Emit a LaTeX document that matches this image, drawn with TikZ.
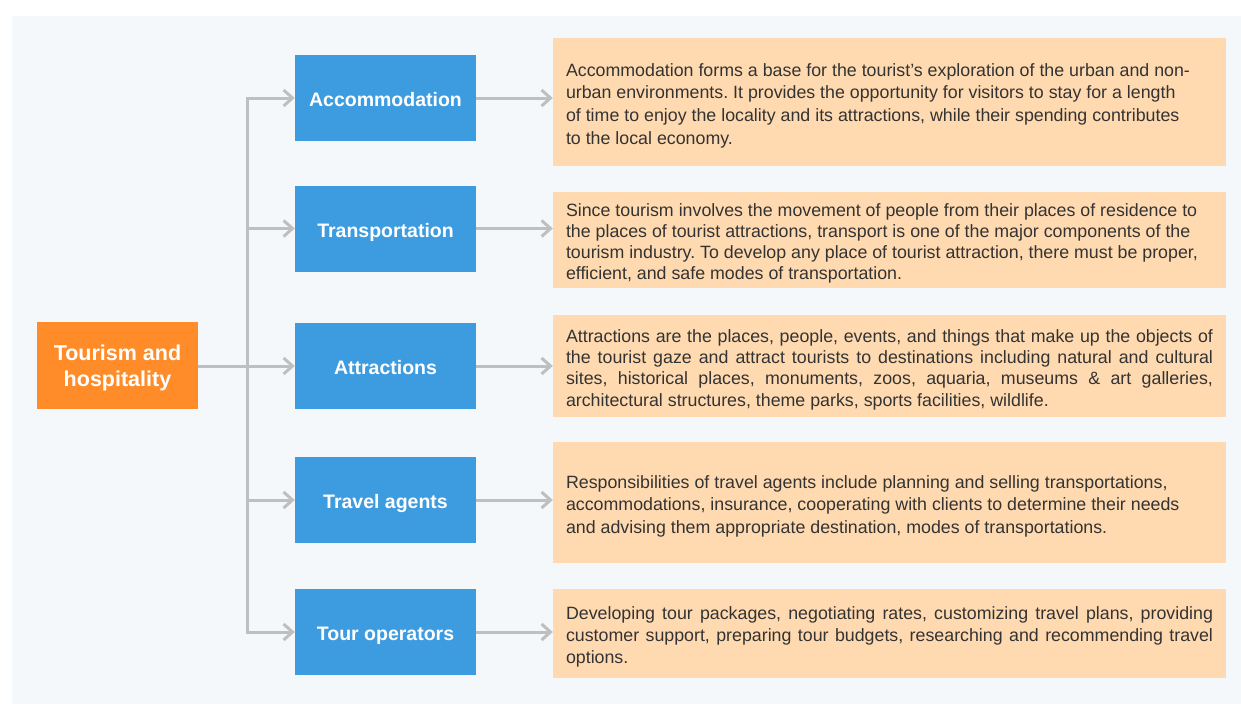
\documentclass[tikz,border=0pt]{standalone}
\usepackage{fontspec}
\setmainfont{Liberation Sans}
\usetikzlibrary{arrows.meta}
\definecolor{fond}{HTML}{F5F8FA}
\definecolor{orangebox}{HTML}{FF8C28}
\definecolor{bluebox}{HTML}{3D9CDF}
\definecolor{peach}{HTML}{FFDAB0}
\definecolor{linkgray}{HTML}{BFBFBF}
\definecolor{txtgray}{HTML}{333333}
\frenchspacing
\newcommand{\jline}[1]{\makebox[647pt][s]{#1}}
\tikzset{
    racine/.style={fill=orangebox, text=white, minimum width=161pt, minimum height=87pt, align=center, text depth=0pt, font=\fontsize{21.5}{26}\selectfont\bfseries},
    branche/.style={fill=bluebox, text=white, minimum width=181pt, minimum height=86pt, text height=17pt, text depth=0pt, font=\fontsize{19.5}{23}\selectfont\bfseries},
    detail/.style={fill=peach, text=txtgray, text width=647pt, inner xsep=13pt, inner ysep=0pt, align=flush left, text height=20pt, font=\fontsize{17.8}{22.7}\selectfont},
    lien/.style={draw=linkgray, line width=3pt, -{Straight Barb[length=9pt,width=16pt]}}
}

\begin{document}
\begin{tikzpicture}[x=1pt, y=-1pt]
                \useasboundingbox (0,0) rectangle (1241,704);
                \fill[fond] (12,16) rectangle (1241,704);

                \node[racine] (racine) at (117.5,365.5) {Tourism and\\hospitality};

                \node[branche] (acc) at (385.5,98) {Accommodation};
                \node[branche] (trans) at (385.5,228.5) {Transportation};
                \node[branche] (attr) at (385.5,366) {Attractions};
                \node[branche] (agent) at (385.5,500) {Travel agents};
                \node[branche] (oper) at (385.5,632) {Tour operators};

                \node[detail, minimum height=128pt] (accd) at (889.5,102) {Accommodation forms a base for the tourist’s exploration of the urban and non-\\urban environments. It provides the opportunity for visitors to stay for a length\\of time to enjoy the locality and its attractions, while their spending contributes\\to the local economy.};
                \node[detail, minimum height=96pt, font=\fontsize{17.8}{21}\selectfont] (transd) at (889.5,240) {Since tourism involves the movement of people from their places of residence to\\the places of tourist attractions, transport is one of the major components of the\\tourism industry. To develop any place of tourist attraction, there must be proper,\\efficient, and safe modes of transportation.};
                \node[detail, minimum height=102pt, font=\fontsize{17.8}{21.3}\selectfont] (attrd) at (889.5,366) {\jline{Attractions are the places, people, events, and things that make up the objects of}\\\jline{the tourist gaze and attract tourists to destinations including natural and cultural}\\\jline{sites, historical places, monuments, zoos, aquaria, museums \& art galleries,}\\architectural structures, theme parks, sports facilities, wildlife.};
                \node[detail, minimum height=121pt, font=\fontsize{17.8}{22.5}\selectfont] (agentd) at (889.5,502.5) {Responsibilities of travel agents include planning and selling transportations,\\accommodations, insurance, cooperating with clients to determine their needs\\and advising them appropriate destination, modes of transportations.};
                \node[detail, minimum height=89pt, font=\fontsize{17.8}{22}\selectfont] (operd) at (889.5,633.5) {\jline{Developing tour packages, negotiating rates, customizing travel plans, providing}\\\jline{customer support, preparing tour budgets, researching and recommending travel}\\options.};

                % fork from the root to the five branches
                \coordinate (fourche) at (247,366);
                \draw[lien] (racine.east |- attr.west) -- (attr.west);
                \foreach \b in {acc,trans,agent,oper}
                    \draw[lien] (fourche) |- (\b.west);

                % branches to their details
                \foreach \b/\d in {acc/accd,trans/transd,attr/attrd,agent/agentd,oper/operd}
                    \draw[lien] (\b.east) -- (\b.east -| \d.west);
            \end{tikzpicture}
\end{document}
